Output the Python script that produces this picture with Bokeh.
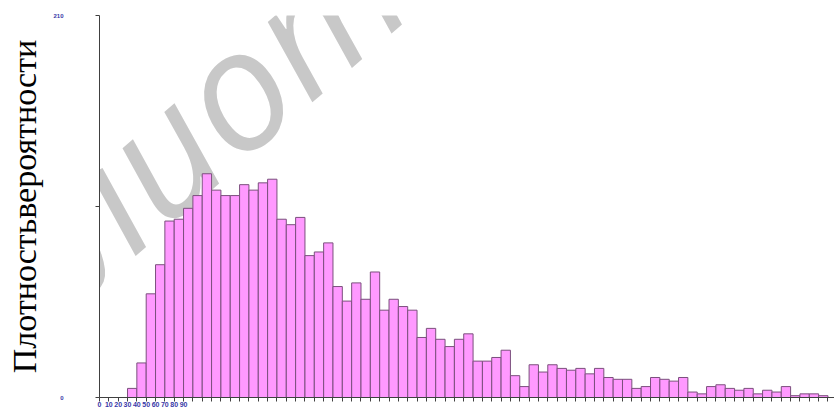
from bokeh.plotting import figure
from bokeh.models import Range1d, FixedTicker, Label
from bokeh.embed import file_html
from bokeh.resources import INLINE

# ---- data ----
bin_width = 10
bin_starts = list(range(30, 780, 10))
counts = [5, 19, 57, 73, 97, 98, 104, 111, 123, 114,
          111, 111, 117, 114, 118, 120, 98, 95, 99, 78,
          80, 85, 61, 53, 63, 54, 69, 48, 54, 50,
          48, 33, 38, 32, 28, 32, 35, 20, 20, 22,
          26, 12, 6, 18, 14, 18, 16, 15, 16, 13,
          16, 11, 10, 10, 5, 6, 11, 10, 9, 11,
          3, 2, 6, 7, 5, 4, 5, 2, 4, 3,
          6, 1, 2, 2, 1]
x_ticks = list(range(0, 790, 10))
x_tick_labels = ["0", "10", "20", "30", "40", "50", "60", "70", "80", "90"]
y_ticks = [0, 105, 210]
y_tick_labels = ["0", "", "210"]
y_title = "Плотностьвероятности"
watermark = "Библиотека"

bin_ends = [s + bin_width for s in bin_starts]

# layout (pixels)
W, H = 834, 410
left, right, top, bottom = 99, 0, 15, 13
x0, x1, y0, y1 = 0, 787, 0, 210
fw, fh = W - left - right, H - top - bottom


def px_to_data(px, py):
    return (x0 + (px - left) / fw * (x1 - x0),
            y0 + (H - bottom - py) / fh * (y1 - y0))


p = figure(width=W, height=H, output_backend="svg", toolbar_location=None,
           x_range=Range1d(x0, x1), y_range=Range1d(y0, y1),
           min_border_left=left, min_border_right=right, min_border_top=top,
           min_border_bottom=bottom)
p.outline_line_color = None
p.xgrid.grid_line_color = None
p.ygrid.grid_line_color = None
p.background_fill_color = "white"
p.border_fill_color = "white"

wx, wy = px_to_data(205, 108)
wm = Label(x=wx, y=wy, text=watermark, angle=41, angle_units="deg",
           text_font="Open Sans", text_font_style="italic",
           text_font_size="168px", text_color="#c8c8c8",
           text_align="center", text_baseline="middle", level="underlay")
p.add_layout(wm)

p.quad(left=bin_starts, right=bin_ends, bottom=0, top=counts,
       fill_color="#ff99ff", line_color="#7b4f7d", line_width=1)

label_color = "#3838a8"

xa = p.xaxis[0]
xa.ticker = FixedTicker(ticks=x_ticks)
xa.major_label_overrides = {t: (x_tick_labels[i] if i < len(x_tick_labels) else "")
                            for i, t in enumerate(x_ticks)}
xa.minor_tick_line_color = None
xa.major_tick_in = 0
xa.major_tick_out = 4
xa.major_label_standoff = 0
xa.major_label_text_font = "Liberation Sans"
xa.major_label_text_font_style = "bold"
xa.major_label_text_font_size = "7px"
xa.major_label_text_color = label_color
xa.axis_line_color = "#404040"
xa.major_tick_line_color = "#404040"

ya = p.yaxis[0]
ya.ticker = FixedTicker(ticks=y_ticks)
ya.major_label_overrides = {t: y_tick_labels[i] for i, t in enumerate(y_ticks)}
ya.minor_tick_line_color = None
ya.major_tick_in = 0
ya.major_tick_out = 4
ya.major_label_standoff = 32
ya.major_label_text_font = "Liberation Sans"
ya.major_label_text_font_style = "bold"
ya.major_label_text_font_size = "6px"
ya.major_label_text_color = label_color
ya.axis_line_color = "#404040"
ya.major_tick_line_color = "#404040"
ya.axis_label = y_title
ya.axis_label_text_font = "Liberation Serif"
ya.axis_label_text_font_style = "normal"
ya.axis_label_text_font_size = "34px"
ya.axis_label_text_color = "black"
ya.axis_label_standoff = 7

open("out.html", "w").write(file_html(p, INLINE))
